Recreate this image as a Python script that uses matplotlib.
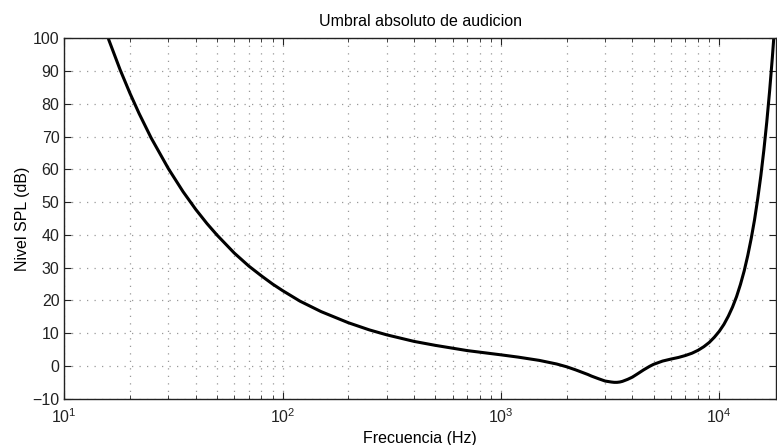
import matplotlib
matplotlib.use("Agg")
import matplotlib.pyplot as plt
from matplotlib.ticker import LogLocator, MultipleLocator

# threshold values (Hz, dB SPL)
freq_hz = [16, 18, 20, 22, 25, 30, 35, 40, 45, 50, 60, 70, 80, 90, 100,
           120, 150, 200, 250, 300, 400, 500, 700, 1000, 1200, 1500, 1800,
           2000, 2200, 2500, 2600, 2800, 3000, 3200, 3300, 3400, 3500, 3600,
           3800, 4000, 4200, 4500, 4800, 5000, 5500, 6000, 6500, 7000, 7500,
           8000, 8500, 9000, 9500, 10000, 10500, 11000, 11500, 12000, 12500,
           13000, 13500, 14000, 14500, 15000, 15500, 16000, 16500, 17000,
           17500, 18000]
level_db = [99.5, 90.5, 83.2, 77.1, 69.6, 60.2, 53.2, 47.8, 43.5, 40.0, 34.5,
            30.5, 27.5, 25.0, 23.0, 19.8, 16.6, 13.2, 11.0, 9.5, 7.5, 6.3, 4.7,
            3.4, 2.7, 1.7, 0.6, -0.25, -1.2, -2.6, -3.1, -3.9, -4.6, -4.9, -5.0,
            -5.0, -4.9, -4.7, -4.1, -3.4, -2.5, -1.2, -0.1, 0.5, 1.5, 2.1, 2.6,
            3.2, 3.9, 4.8, 5.9, 7.2, 8.8, 10.6, 12.7, 15.2, 18.0, 21.2, 24.9,
            29.0, 33.7, 38.9, 44.6, 51.1, 58.1, 65.9, 74.5, 83.9, 94.2, 105.3]

plt.rcParams['font.family'] = ['Liberation Sans', 'DejaVu Sans']
plt.rcParams['font.size'] = 11.5

fig = plt.figure(figsize=(7.77, 4.45), dpi=100)
ax = fig.add_axes([0.0828, 0.104, 0.916, 0.8095])

ax.semilogx(freq_hz, level_db, color='black', lw=2.2)
ax.set_xlim(10, 18200)
ax.set_ylim(-10, 100)
ax.yaxis.set_major_locator(MultipleLocator(10))
ax.xaxis.set_major_locator(LogLocator(base=10, numticks=10))
ax.xaxis.set_minor_locator(LogLocator(base=10, subs=range(2, 10), numticks=20))

grid_style = dict(linestyle=(0, (1, 5)), color='#999999', lw=0.9)
ax.grid(True, which='major', **grid_style)
ax.grid(True, which='minor', axis='x', **grid_style)
ax.tick_params(which='both', direction='in', top=True, right=True, colors='#222222')
ax.tick_params(which='major', length=5)
ax.tick_params(which='minor', length=3)
ax.tick_params(axis='x', pad=6)
for s in ax.spines.values():
    s.set_linewidth(1.0)
    s.set_color('#222222')

ax.set_title('Umbral absoluto de audicion', fontsize=11.5, pad=9)
ax.set_xlabel('Frecuencia (Hz)', labelpad=4)
ax.set_ylabel('Nivel SPL (dB)', labelpad=2)

fig.savefig('out.png', dpi=100)
